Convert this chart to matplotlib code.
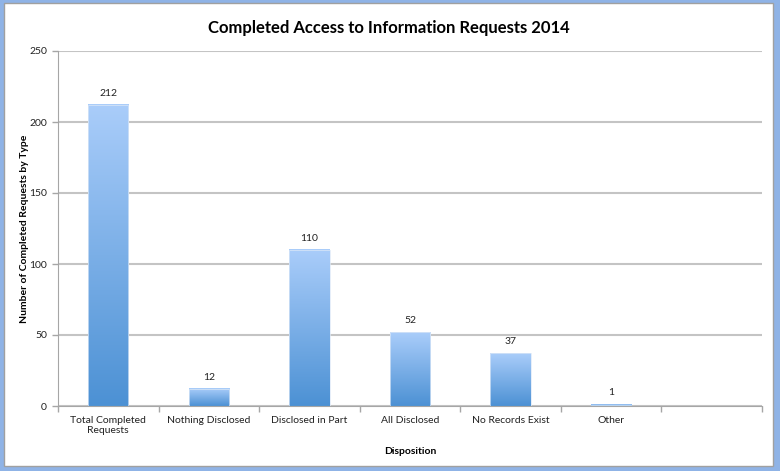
import numpy as np
import matplotlib
matplotlib.use('Agg')
import matplotlib.pyplot as plt
from matplotlib.patches import Rectangle
from matplotlib.colors import LinearSegmentedColormap

# data
categories = ['Total Completed\nRequests', 'Nothing Disclosed', 'Disclosed in Part',
              'All Disclosed', 'No Records Exist', 'Other', '']
values = [212, 12, 110, 52, 37, 1, None]

plt.rcParams['font.family'] = ['Lato', 'DejaVu Sans']

fig = plt.figure(figsize=(7.8, 4.71), dpi=100)
fig.patch.set_facecolor('#8FB3E6')
# white chart frame
frame = Rectangle((4 / 780, 1 - 466 / 471), 769 / 780, 463 / 471, transform=fig.transFigure,
                  facecolor='white', edgecolor='#A0A0A0', linewidth=1, zorder=-5)
fig.patches.append(frame)

ax = fig.add_axes([58 / 780, 1 - 406 / 471, 704 / 780, 355 / 471])
ax.set_zorder(2)
ax.set_facecolor('none')

cmap = LinearSegmentedColormap.from_list('bar', ['#4C91D4', '#AACDFA'])
grad = np.linspace(0, 1, 256).reshape(-1, 1)
bar_w = 0.4

for i, v in enumerate(values):
    if v is None:
        continue
    x0 = i - bar_w / 2
    ax.imshow(grad, cmap=cmap, origin='lower', aspect='auto',
              extent=(x0, x0 + bar_w, 0, v), zorder=2)
    ax.add_patch(Rectangle((x0, 0), bar_w, v, facecolor='none',
                           edgecolor='#DCE8F7', linewidth=0.5, zorder=3))
    ax.text(i, v + 5, str(v), ha='center', va='bottom', fontsize=7.5, color='#222222')

ax.set_xlim(-0.5, len(categories) - 0.5)
ax.set_ylim(0, 250)
ax.set_yticks(range(0, 251, 50))
ax.set_xticks(np.arange(len(categories)))
ax.set_xticklabels(categories, fontsize=7.5, color='#222222')
ax.set_xticks(np.arange(-0.5, len(categories)), minor=True)
ax.tick_params(axis='x', which='major', length=0, pad=7)
ax.tick_params(axis='x', which='minor', length=4, color='#A6A6A6', width=1)
ax.tick_params(axis='y', length=4, color='#A6A6A6', width=1, labelsize=7.5,
               labelcolor='#222222', pad=4)

ax.grid(axis='y', color='#C4C4C4', linewidth=1.5, zorder=0)
ax.set_axisbelow(True)
for s in ['top', 'right']:
    ax.spines[s].set_visible(False)
ax.spines['left'].set_color('#A6A6A6')
ax.spines['bottom'].set_color('#A6A6A6')

ax.set_xlabel('Disposition', fontsize=7.5, fontweight='bold')
ax.xaxis.set_label_coords(0.5, -0.115)
ax.set_ylabel('Number of Completed Requests by Type', fontsize=7.5, fontweight='bold')
ax.yaxis.set_label_coords(-0.041, 0.5)
fig.text(389 / 780, 1 - 28 / 471, 'Completed Access to Information Requests 2014',
         ha='center', va='center', fontsize=12, fontweight='bold')

fig.savefig('out.png', dpi=100, facecolor=fig.get_facecolor())
